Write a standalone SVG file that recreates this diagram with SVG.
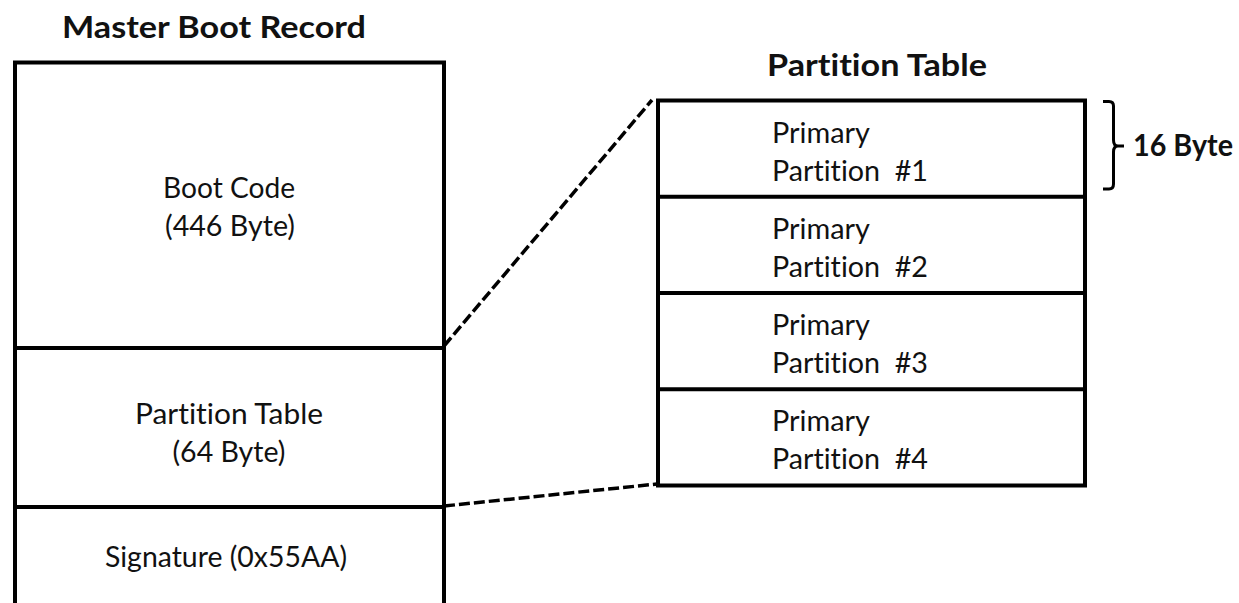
<svg xmlns="http://www.w3.org/2000/svg" width="1239" height="603" viewBox="0 0 1239 603">
  <style>
    .frame { fill: none; stroke: #000; stroke-width: 4; }
    .dash { fill: none; stroke: #000; stroke-width: 3.5; stroke-dasharray: 11 4; }
    .brace { fill: none; stroke: #000; stroke-width: 3; stroke-linejoin: round; }
    text { font-variant-ligatures: none; font-feature-settings: "liga" 0, "clig" 0; white-space: pre; }
    .title { font-family: Lato, "Open Sans", sans-serif; font-weight: bold; font-size: 31px; fill: #111; }
    .label { font-family: Lato, "Open Sans", sans-serif; font-size: 28px; fill: #111; }
    .mid { text-anchor: middle; }
  </style>
  <rect width="1239" height="603" fill="#fff"/>

  <!-- Master Boot Record -->
  <g id="mbr">
    <text class="title" x="62" y="38" textLength="304" lengthAdjust="spacingAndGlyphs">Master Boot Record</text>
    <path class="frame" d="M15,603 V62.5 H444 V603"/>
    <g id="boot-code">
      <text class="label mid" x="229" y="198" textLength="132" lengthAdjust="spacingAndGlyphs">Boot Code</text>
      <text class="label mid" x="230" y="236" textLength="130" lengthAdjust="spacingAndGlyphs">(446 Byte)</text>
    </g>
    <g id="mbr-partition-table">
      <line class="frame" x1="15" y1="348" x2="444" y2="348"/>
      <text class="label mid" x="229" y="424" textLength="188" lengthAdjust="spacingAndGlyphs">Partition Table</text>
      <text class="label mid" x="229" y="462" textLength="113" lengthAdjust="spacingAndGlyphs">(64 Byte)</text>
    </g>
    <g id="signature">
      <line class="frame" x1="15" y1="507" x2="444" y2="507"/>
      <text class="label mid" x="226" y="567" textLength="242" lengthAdjust="spacingAndGlyphs">Signature (0x55AA)</text>
    </g>
  </g>

  <!-- Partition Table detail -->
  <g id="partition-table">
    <text class="title" x="767" y="76" textLength="220" lengthAdjust="spacingAndGlyphs">Partition Table</text>
    <rect class="frame" x="658" y="100.5" width="427" height="385"/>
    <line class="frame" x1="658" y1="196.75" x2="1085" y2="196.75"/>
    <line class="frame" x1="658" y1="293" x2="1085" y2="293"/>
    <line class="frame" x1="658" y1="389.25" x2="1085" y2="389.25"/>
  </g>
  <g id="primary-1">
    <text class="label" x="772" y="143" textLength="98" lengthAdjust="spacingAndGlyphs">Primary</text>
    <text class="label" x="772" y="181" textLength="156" lengthAdjust="spacingAndGlyphs">Partition  #1</text>
  </g>
  <g id="primary-2">
    <text class="label" x="772" y="239" textLength="98" lengthAdjust="spacingAndGlyphs">Primary</text>
    <text class="label" x="772" y="277" textLength="156" lengthAdjust="spacingAndGlyphs">Partition  #2</text>
  </g>
  <g id="primary-3">
    <text class="label" x="772" y="335" textLength="98" lengthAdjust="spacingAndGlyphs">Primary</text>
    <text class="label" x="772" y="373" textLength="156" lengthAdjust="spacingAndGlyphs">Partition  #3</text>
  </g>
  <g id="primary-4">
    <text class="label" x="772" y="431" textLength="98" lengthAdjust="spacingAndGlyphs">Primary</text>
    <text class="label" x="772" y="469" textLength="156" lengthAdjust="spacingAndGlyphs">Partition  #4</text>
  </g>

  <!-- Entry size brace -->
  <g id="entry-size">
    <path class="brace" d="M1103,101.5 H1109 Q1113.5,101.5 1113.5,106 V140 Q1113.5,146 1118,146 H1124 M1118,146 Q1113.5,146 1113.5,152 V184 Q1113.5,189 1109,189 H1103"/>
    <text class="title" x="1133" y="156" textLength="100" lengthAdjust="spacingAndGlyphs">16 Byte</text>
  </g>

  <!-- Zoom connectors -->
  <g id="connectors">
    <line class="dash" x1="444" y1="346" x2="652" y2="100"/>
    <line class="dash" x1="444" y1="506" x2="657" y2="484"/>
  </g>
</svg>
